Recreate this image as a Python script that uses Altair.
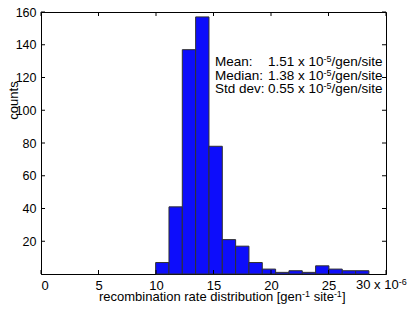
import altair as alt
import pandas as pd

# ---- data ----
bin_start = 9.97
bin_width = 1.159
counts = [7, 41, 137, 157, 78, 21, 17, 7, 3, 1, 2, 1, 5, 3, 2, 2]
x_ticks = [0, 5, 10, 15, 20, 25, 30]
y_ticks = [20, 40, 60, 80, 100, 120, 140, 160]
stat_names = ["Mean:", "Median:", "Std dev:"]
stat_values = ["1.51", "1.38", "0.55"]
x_title_parts = [("recombination rate distribution [gen", False), ("-1", True), (" site", False), ("-1", True), ("]", False)]

FONT = "Liberation Sans"
W, H = 345, 262
LEFT, BOTTOM = 41, 274          # page pixel of plot origin
PX_X = W / 30.0
PX_Y = H / 160.0

# Arial/Helvetica advance widths (1/1000 em) used to lay out rich text runs
AW = {' ': 278, '.': 278, 'x': 500, '-': 333, '/': 278, 'g': 556, 'e': 556, 'n': 556,
      's': 500, 'i': 222, 't': 278, '[': 278, ']': 278, 'r': 333, 'c': 500, 'o': 556,
      'm': 833, 'b': 556, 'a': 556, 'd': 556, 'u': 556, ':': 278}
def tw(s, size):
    return sum(AW.get(ch, 556) for ch in s) * size / 1000.0

def rich(parts, x_page, y_base, size=13, sup_size=9, rise=4):
    rows, x = [], x_page
    for txt, sup in parts:
        fs = sup_size if sup else size
        yb = y_base - (rise if sup else 0)
        lead = len(txt) - len(txt.lstrip(" "))
        x += tw(" " * lead, fs)
        core = txt.lstrip(" ")
        rows.append({"t": core, "xd": (x - LEFT) / PX_X, "yd": (BOTTOM - yb) / PX_Y, "fs": fs})
        x += tw(core, fs)
    return rows

bars = pd.DataFrame({
    "x0": [bin_start + i * bin_width for i in range(len(counts))],
    "x1": [bin_start + (i + 1) * bin_width for i in range(len(counts))],
    "count": counts,
})

xs = alt.Scale(domain=[0, 30], nice=False, zero=False)
ys = alt.Scale(domain=[0, 160], nice=False)

xaxis = alt.Axis(
    values=x_ticks, ticks=False, grid=False, domainColor="#000",
    labelFont=FONT, labelFontSize=13, labelColor="#000", labelPadding=5,
    labelOverlap=False, labelExpr="datum.value == 30 ? '' : datum.label", title=None)
yaxis = alt.Axis(
    values=y_ticks, ticks=False, grid=False, domainColor="#000",
    labelFont=FONT, labelFontSize=12.5, labelColor="#000", labelPadding=5, labelOverlap=False,
    title="counts", titleFont=FONT, titleFontSize=13, titleFontWeight="normal",
    titleColor="#000", titleX=-24, titleY=88, titleBaseline="alphabetic", titleAlign="center")

hist = alt.Chart(bars).mark_rect(color="#0d0dfb", stroke="#303030", strokeWidth=1).encode(
    x=alt.X("x0:Q", scale=xs, axis=xaxis, title=None),
    x2="x1:Q",
    y=alt.Y("count:Q", scale=ys, axis=yaxis, title="counts"),
    y2=alt.datum(0),
)

# inner ticks (box style)
xt = pd.DataFrame({"v": x_ticks})
yt = pd.DataFrame({"v": y_ticks})
tick_len_y = 4 / PX_Y
tick_len_x = 4 / PX_X
xt_bot = alt.Chart(xt).mark_rule(color="#000").encode(
    x=alt.X("v:Q", scale=xs, axis=xaxis, title=None),
    y=alt.datum(0, scale=ys, axis=yaxis, title="counts"), y2=alt.datum(tick_len_y))
xt_top = alt.Chart(xt).mark_rule(color="#000").encode(
    x=alt.X("v:Q", scale=xs, axis=xaxis, title=None),
    y=alt.datum(160, scale=ys, axis=yaxis, title="counts"), y2=alt.datum(160 - tick_len_y))
yt_left = alt.Chart(yt).mark_rule(color="#000").encode(
    y=alt.Y("v:Q", scale=ys, axis=yaxis, title="counts"),
    x=alt.datum(0, scale=xs, axis=xaxis, title=None), x2=alt.datum(tick_len_x))
yt_right = alt.Chart(yt).mark_rule(color="#000").encode(
    y=alt.Y("v:Q", scale=ys, axis=yaxis, title="counts"),
    x=alt.datum(30, scale=xs, axis=xaxis, title=None), x2=alt.datum(30 - tick_len_x))

# rich text runs (stats box, x-axis title, last tick label with exponent)
rows = []
for i, (nm, v) in enumerate(zip(stat_names, stat_values)):
    yb = 66 + 13.5 * i
    rows += rich([(nm, False)], 215, yb, size=13.5)
    rows += rich([(v + " x 10", False), ("-5", True), ("/gen/site", False)], 268, yb,
                 size=13.5, sup_size=9, rise=4)
rows += rich(x_title_parts, 99, 300.5, size=13, sup_size=9, rise=4)
rows += rich([("30 x 10", False), ("-6", True)], 356, 289, size=13, sup_size=9, rise=4)
texts = pd.DataFrame(rows)

txt = alt.Chart(texts).mark_text(font=FONT, align="left", baseline="alphabetic", color="#000").encode(
    x=alt.X("xd:Q", scale=xs, axis=xaxis, title=None),
    y=alt.Y("yd:Q", scale=ys, axis=yaxis, title="counts"), text="t:N",
    size=alt.Size("fs:Q", scale=None))

chart = alt.layer(hist, xt_bot, xt_top, yt_left, yt_right, txt).properties(
    width=W, height=H,
    autosize=alt.AutoSizeParams(type="none"),
    padding={"left": 33, "top": 4, "right": 21, "bottom": 30},
).configure_view(stroke="#000", strokeWidth=1)

chart.save("out.html", embed_options={"renderer": "svg", "actions": False})
